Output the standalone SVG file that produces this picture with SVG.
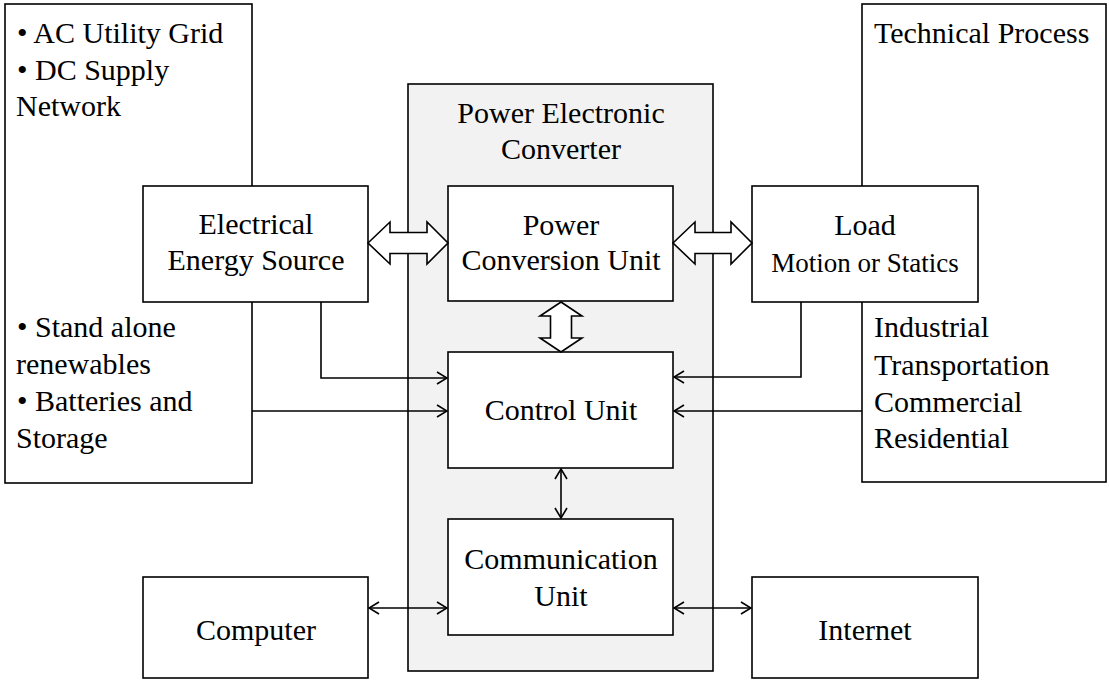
<svg xmlns="http://www.w3.org/2000/svg" width="1109" height="680" viewBox="0 0 1109 680" font-family="'Liberation Serif', Tinos, 'Times New Roman', Times, 'DejaVu Serif', serif">
<style>
.box{fill:#fff;stroke:#000;stroke-width:1.6}
.gray{fill:#f2f2f2;stroke:#000;stroke-width:1.6}
text{font-family:'Liberation Serif', Tinos, 'Times New Roman', Times, 'DejaVu Serif', serif;font-size:30px;fill:#000}
.c{text-anchor:middle}
.sm{font-size:27px}
.ln{fill:none;stroke:#000;stroke-width:1.6}
.blk{fill:#fff;stroke:#000;stroke-width:1.6;stroke-linejoin:miter}
</style>
<defs>
<marker id="ah" viewBox="0 0 12 14" refX="11" refY="7" markerWidth="12" markerHeight="14" markerUnits="userSpaceOnUse" orient="auto-start-reverse">
<path d="M1,1 L11,7 L1,13" fill="none" stroke="#000" stroke-width="1.6"/>
</marker>
</defs>
<g id="grid-sources">
<rect class="box" x="5" y="4" width="247" height="479"/>
<text x="17" y="43">• AC Utility Grid</text>
<text x="17" y="80">• DC Supply</text>
<text x="16" y="116">Network</text>
<text x="17" y="337">• Stand alone</text>
<text x="16" y="374">renewables</text>
<text x="17" y="411">• Batteries and</text>
<text x="16" y="448">Storage</text>
</g>
<g id="technical-process">
<rect class="box" x="862" y="4" width="244" height="478"/>
<text x="874" y="43">Technical Process</text>
<text x="874" y="337">Industrial</text>
<text x="874" y="375">Transportation</text>
<text x="874" y="412">Commercial</text>
<text x="874" y="448">Residential</text>
</g>
<g id="power-electronic-converter">
<rect class="gray" x="408" y="84" width="305" height="587"/>
<text class="c" x="561" y="123">Power Electronic</text>
<text class="c" x="561" y="159">Converter</text>
</g>
<g id="electrical-energy-source">
<rect class="box" x="143" y="186" width="225" height="116"/>
<text class="c" x="256" y="234">Electrical</text>
<text class="c" x="256" y="270">Energy Source</text>
</g>
<g id="power-conversion-unit">
<rect class="box" x="448" y="186" width="225" height="115"/>
<text class="c" x="561" y="235">Power</text>
<text class="c" x="561" y="270">Conversion Unit</text>
</g>
<g id="load">
<rect class="box" x="752" y="186" width="226" height="116"/>
<text class="c" x="865" y="235">Load</text>
<text class="c sm" x="865" y="272">Motion or Statics</text>
</g>
<g id="control-unit">
<rect class="box" x="448" y="352" width="225" height="116"/>
<text class="c" x="561" y="420">Control Unit</text>
</g>
<g id="communication-unit">
<rect class="box" x="448" y="519" width="225" height="116"/>
<text class="c" x="561" y="569">Communication</text>
<text class="c" x="561" y="606">Unit</text>
</g>
<g id="computer">
<rect class="box" x="143" y="577" width="225" height="101"/>
<text class="c" x="256" y="640">Computer</text>
</g>
<g id="internet">
<rect class="box" x="752" y="577" width="226" height="101"/>
<text class="c" x="865" y="640">Internet</text>
</g>
<g id="connectors">
<polygon class="blk" points="368,243 390,222 390,232.5 427,232.5 427,222 448,243 427,264 427,253.5 390,253.5 390,264"/>
<polygon class="blk" points="673,243 695,222 695,232.5 731,232.5 731,222 752,243 731,264 731,253.5 695,253.5 695,264"/>
<polygon class="blk" points="561,302 582,316 571.5,316 571.5,338 582,338 561,352 540,338 550.5,338 550.5,316 540,316"/>
<path class="ln" d="M321,302 V378 H447" marker-end="url(#ah)"/>
<path class="ln" d="M252,411 H447" marker-end="url(#ah)"/>
<path class="ln" d="M801,302 V377 H674" marker-end="url(#ah)"/>
<path class="ln" d="M862,411 H674" marker-end="url(#ah)"/>
<path class="ln" d="M561,469 V518" marker-start="url(#ah)" marker-end="url(#ah)"/>
<path class="ln" d="M369,608 H447" marker-start="url(#ah)" marker-end="url(#ah)"/>
<path class="ln" d="M674,608 H751" marker-start="url(#ah)" marker-end="url(#ah)"/>
</g>
</svg>
